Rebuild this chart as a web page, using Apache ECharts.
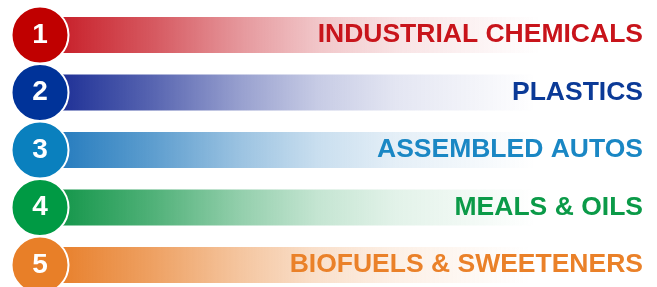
<!DOCTYPE html>
<html>
<head>
    <meta charset="UTF-8">
    <title>Segments</title>
    <script src="https://cdn.jsdelivr.net/npm/echarts@6/dist/echarts.min.js"></script>
    <style>
        html, body {margin: 0; padding: 0; background: #fff;}
        #chart {width: 657px; height: 287px;}
    </style>
</head>
<body>
    <div id="chart"></div>
    <script>
        // 数据
        const categories = ['INDUSTRIAL CHEMICALS', 'PLASTICS', 'ASSEMBLED AUTOS', 'MEALS & OILS', 'BIOFUELS & SWEETENERS'];
        const ranks = ['1', '2', '3', '4', '5'];
        const barEnds = [540, 535, 535, 535, 530];

        // 颜色
        const circleColors = ['#C00000', '#003399', '#0A80BE', '#009A44', '#E87F28'];
        const barRgb = ['200,32,42', '30,48,150', '38,124,190', '20,150,74', '232,128,44'];
        const textColors = ['#C8141B', '#0B3A97', '#1A87C4', '#0B9A48', '#EA8129'];

        const AXIS_MAX = 657;
        const BAR_START = 40;
        const CIRCLE_X = 40;
        const FONT = '"Liberation Sans", Arial, sans-serif';

        // 渐变褪色到白色
        const fade = rgb => new echarts.graphic.LinearGradient(0, 0, 1, 0, [
            { offset: 0.04, color: `rgba(${rgb},1)` },
            { offset: 0.23, color: `rgba(${rgb},0.74)` },
            { offset: 0.41, color: `rgba(${rgb},0.45)` },
            { offset: 0.56, color: `rgba(${rgb},0.25)` },
            { offset: 0.72, color: `rgba(${rgb},0.12)` },
            { offset: 1, color: `rgba(${rgb},0)` }
        ]);

        const chart = echarts.init(document.getElementById('chart'));
        chart.setOption({
            animation: false,
            grid: { left: 0, top: 6.25, width: 657, height: 287.5, outerBoundsMode: 'none', containLabel: false },
            xAxis: { type: 'value', min: 0, max: AXIS_MAX, show: false },
            yAxis: { type: 'category', data: categories, inverse: true, show: false },
            series: [
                {
                    type: 'bar',
                    stack: 'row',
                    barWidth: 36,
                    barGap: '-100%',
                    silent: true,
                    itemStyle: { color: 'transparent' },
                    data: categories.map(() => BAR_START)
                },
                {
                    type: 'bar',
                    stack: 'row',
                    barWidth: 36,
                    barGap: '-100%',
                    data: barEnds.map((v, i) => ({
                        value: v - BAR_START,
                        itemStyle: { color: fade(barRgb[i]) }
                    }))
                },
                {
                    // 文字轨道
                    type: 'bar',
                    barWidth: 36,
                    barGap: '-100%',
                    itemStyle: { color: 'transparent' },
                    z: 3,
                    label: {
                        show: true,
                        position: 'insideRight',
                        distance: 14,
                        formatter: '{b}',
                        fontFamily: FONT,
                        fontWeight: 'bold',
                        fontSize: 26.5
                    },
                    data: categories.map((c, i) => ({
                        value: AXIS_MAX,
                        label: { color: textColors[i] }
                    }))
                },
                {
                    type: 'scatter',
                    symbol: 'circle',
                    symbolSize: 57,
                    z: 5,
                    label: {
                        show: true,
                        position: 'inside',
                        color: '#fff',
                        fontFamily: FONT,
                        fontWeight: 'bold',
                        fontSize: 28,
                        formatter: p => ranks[p.dataIndex]
                    },
                    data: categories.map((c, i) => ({
                        value: [CIRCLE_X, c],
                        itemStyle: { color: circleColors[i], opacity: 1, borderColor: '#fff', borderWidth: 2 }
                    }))
                }
            ]
        });
    </script>
</body>
</html>
